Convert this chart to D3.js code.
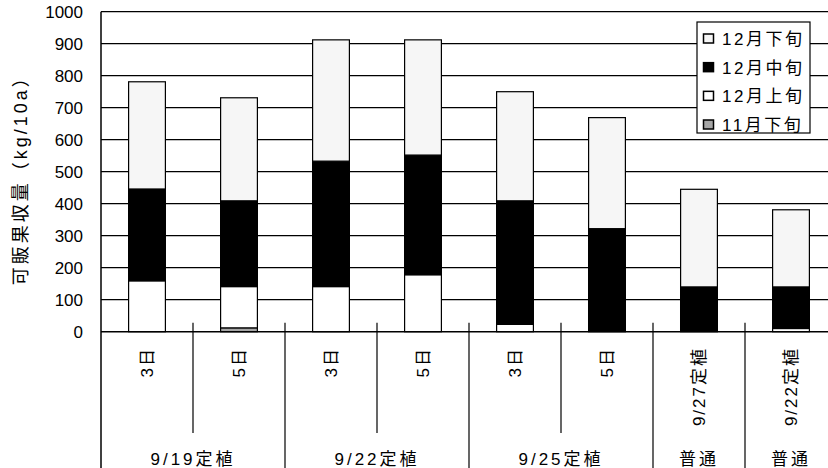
<!DOCTYPE html>
<html><head><meta charset="utf-8">
<script src="https://cdn.jsdelivr.net/npm/d3@7/dist/d3.min.js"></script>
<style>
html,body{margin:0;padding:0;background:#fff;}
svg{display:block;}
text{font-family:"Liberation Sans",Arial,"Noto Sans CJK JP",sans-serif;fill:#000;}
</style></head>
<body>
<svg id="c" width="828" height="468"></svg>
<script>
// ---- data ----
const categories = ["3日","5日","3日","5日","3日","5日","9/27定植","9/22定植"];
const groups = ["9/19定植","9/22定植","9/25定植","普通","普通"];
const groupSpans = [2,2,2,1,1];
const seriesNames = ["11月下旬","12月上旬","12月中旬","12月下旬"];
const nov3 = [0, 12, 0, 0, 0, 0, 0, 0];
const dec1 = [159, 129, 141, 178, 23, 0, 0, 10];
const dec2 = [287, 268, 392, 374, 386, 322, 140, 130];
const dec3 = [335, 322, 379, 360, 341, 347, 305, 241];
const yTicks = [0,100,200,300,400,500,600,700,800,900,1000];
const yTitle = "可販果収量（kg/10a）";

const colors = {"11月下旬":"#a6a6a6","12月上旬":"#ffffff","12月中旬":"#000000","12月下旬":"#f6f6f6"};
const legendOrder = ["12月下旬","12月中旬","12月上旬","11月下旬"];

const table = categories.map((c,i)=>({key:i, label:c, "11月下旬":nov3[i], "12月上旬":dec1[i], "12月中旬":dec2[i], "12月下旬":dec3[i]}));

const svg = d3.select("#c");
const pLeft = 101, pRight = 837, pTop = 11.7, pBottom = 331.7;
const x = d3.scaleBand().domain(d3.range(categories.length)).range([pLeft,pRight]).paddingInner(0.6).paddingOuter(0.3);
const y = d3.scaleLinear().domain([0,1000]).range([pBottom, pTop]);
const step = x.step();

// gridlines
svg.append("g").selectAll("line").data(yTicks.filter(d=>d>0)).join("line")
  .attr("x1",pLeft).attr("x2",pRight).attr("y1",d=>y(d)).attr("y2",d=>y(d))
  .attr("stroke","#000").attr("stroke-width",1.2);

// y tick labels
svg.append("g").selectAll("text").data(yTicks).join("text")
  .attr("x",83).attr("y",d=>y(d)).attr("dy","0.35em").attr("text-anchor","end")
  .attr("font-size",17).text(d=>d);

// y title
svg.append("text").attr("transform",`translate(27,${(pTop+pBottom)/2+4}) rotate(-90)`)
  .attr("text-anchor","middle").attr("font-size",18).attr("letter-spacing","3px")
  .style("fill","#000").text(yTitle);

// stacked bars
const stack = d3.stack().keys(seriesNames)(table);
svg.append("g").selectAll("g").data(stack).join("g")
  .attr("fill",d=>colors[d.key])
  .selectAll("rect").data(d=>d.filter(p=>p[1]-p[0]>0)).join("rect")
  .attr("x",d=>x(d.data.key)).attr("width",x.bandwidth())
  .attr("y",d=>y(d[1])).attr("height",d=>y(d[0])-y(d[1]))
  .attr("stroke","#000").attr("stroke-width",1.2);

// axes lines
svg.append("line").attr("x1",pLeft).attr("x2",pLeft).attr("y1",pTop).attr("y2",468).attr("stroke","#000").attr("stroke-width",1.5);
svg.append("line").attr("x1",pLeft).attr("x2",pRight).attr("y1",pBottom).attr("y2",pBottom).attr("stroke","#000").attr("stroke-width",1.6);

// category boundary ticks (inward)
const bounds = d3.range(1, categories.length+1).map(i=>pLeft + i*step);
svg.append("g").selectAll("line").data(bounds).join("line")
  .attr("x1",d=>d).attr("x2",d=>d).attr("y1",pBottom-9).attr("y2",pBottom)
  .attr("stroke","#000").attr("stroke-width",1.2);

// separator lines below axis
let acc = 0; const groupBounds = [0];
groupSpans.forEach(s=>{acc+=s; groupBounds.push(acc);});
const sepData = d3.range(1, categories.length+1).map(i=>({i, full: groupBounds.includes(i)}));
svg.append("g").selectAll("line").data(sepData).join("line")
  .attr("x1",d=>pLeft+d.i*step).attr("x2",d=>pLeft+d.i*step)
  .attr("y1",pBottom).attr("y2",d=>d.full?468:433)
  .attr("stroke","#000").attr("stroke-width",1.2);

// category labels (rotated)
svg.append("g").selectAll("text").data(table).join("text")
  .attr("transform",d=>`translate(${x(d.key)+x.bandwidth()/2+6},347) rotate(-90)`)
  .attr("text-anchor","end").attr("font-size",17).attr("letter-spacing","2px").text(d=>d.label);

// group labels
svg.append("g").selectAll("text").data(groups).join("text")
  .attr("x",(d,i)=>pLeft + (groupBounds[i]+groupBounds[i+1])/2*step)
  .attr("y",465).attr("text-anchor","middle").attr("font-size",17).attr("letter-spacing","3px").text(d=>d);

// legend
const lg = svg.append("g");
lg.append("rect").attr("x",697).attr("y",22).attr("width",113).attr("height",111)
  .attr("fill","#fff").attr("stroke","#000").attr("stroke-width",1.2);
const rowY = d3.scalePoint().domain(legendOrder).range([39,125]);
const items = lg.selectAll("g").data(legendOrder).join("g").attr("transform",d=>`translate(0,${rowY(d)})`);
items.append("rect").attr("x",703.5).attr("y",-5).attr("width",10).attr("height",9)
  .attr("fill",d=>colors[d]).attr("stroke","#000").attr("stroke-width",1.5);
items.append("text").attr("x",722).attr("y",0).attr("dy","0.36em").attr("font-size",17)
  .attr("letter-spacing","2.5px").text(d=>d);
</script>
</body></html>
